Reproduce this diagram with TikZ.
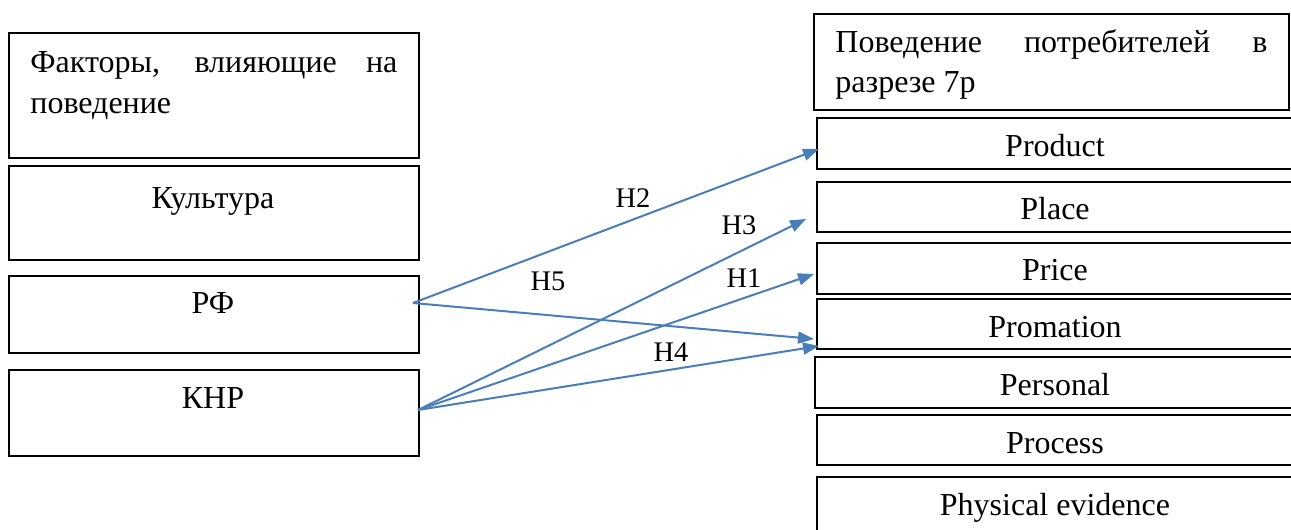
\documentclass[tikz,border=0pt]{standalone}
\usepackage{fontspec}
\setmainfont{Liberation Serif}
\usetikzlibrary{arrows.meta}
\definecolor{arrowblue}{RGB}{74,126,187}
\begin{document}
\begin{tikzpicture}[x=0.5pt,y=-0.5pt,
  box/.style={draw=black, line width=1.15pt, inner sep=0pt, anchor=north west},
  boxtext/.style={inner sep=0pt, anchor=base, font=\fontsize{16}{20.5}\selectfont},
  hyp/.style={inner sep=0pt, anchor=base, font=\fontsize{14.2}{16}\selectfont},
  link/.style={draw=arrowblue, line width=1pt, -{Triangle[length=8pt,width=6pt]}}]
\useasboundingbox (0,0) rectangle (1291,530);
\clip (0,0) rectangle (1291,530);

% left column
\node[box, minimum width=205pt, minimum height=62.5pt] (fact) at (8,32) {};
\node[box, minimum width=205pt, minimum height=47pt] (cult) at (8,165) {};
\node[box, minimum width=205pt, minimum height=38.5pt] (rf) at (8,275) {};
\node[box, minimum width=205pt, minimum height=43pt] (knr) at (8,369) {};

\node[boxtext, anchor=base west] (fact1) at (30,72) {\makebox[183.5pt][s]{Факторы, влияющие на}};
\node[boxtext, anchor=base west] (fact2) at (30,113) {поведение};
\node[boxtext] (cultt) at (213,208) {Культура};
\node[boxtext] (rft) at (213,313) {РФ};
\node[boxtext] (knrt) at (213,408) {КНР};

% right column
\node[box, minimum width=237.5pt, minimum height=48pt] (beh) at (813,13) {};
\node[box, minimum width=240pt, minimum height=25.5pt] (product) at (816,117) {};
\node[box, minimum width=240pt, minimum height=25pt] (place) at (816,181) {};
\node[box, minimum width=240pt, minimum height=25.5pt] (price) at (816,242) {};
\node[box, minimum width=240pt, minimum height=25pt] (prom) at (816,298) {};
\node[box, minimum width=241pt, minimum height=25.5pt] (pers) at (814,356) {};
\node[box, minimum width=240pt, minimum height=25pt] (proc) at (816,414) {};
\node[box, minimum width=240pt, minimum height=30pt] (phys) at (816,476) {};

\node[boxtext, anchor=base west] (beh1) at (835,52) {\makebox[216pt][s]{Поведение потребителей в}};
\node[boxtext, anchor=base west] (beh2) at (835,92) {разрезе 7р};
\node[boxtext] (productt) at (1055,156) {Product};
\node[boxtext] (placet) at (1055,219) {Place};
\node[boxtext] (pricet) at (1055,280) {Price};
\node[boxtext] (promt) at (1055,337) {Promation};
\node[boxtext] (perst) at (1055,395) {Personal};
\node[boxtext] (proct) at (1055,453) {Process};
\node[boxtext] (physt) at (1055,515) {Physical evidence};

% connector ends
\coordinate (rfo) at (413,303);
\coordinate (knro) at (418,410);
\coordinate (toProduct) at (819,149);
\coordinate (toPlace) at (806,219);
\coordinate (toPrice) at (814,274);
\coordinate (toPromA) at (814,339);
\coordinate (toPromB) at (819,346);

\draw[link] (rfo) -- (toProduct);
\draw[link] (rfo) -- (toPromA);
\draw[link] (knro) -- (toPlace);
\draw[link] (knro) -- (toPrice);
\draw[link] (knro) -- (toPromB);

% hypothesis labels
\node[hyp] (h2) at (633,207) {H2};
\node[hyp] (h3) at (739,234) {H3};
\node[hyp] (h5) at (548,290) {H5};
\node[hyp] (h1) at (744,287) {H1};
\node[hyp] (h4) at (671,361) {H4};
\end{tikzpicture}
\end{document}
